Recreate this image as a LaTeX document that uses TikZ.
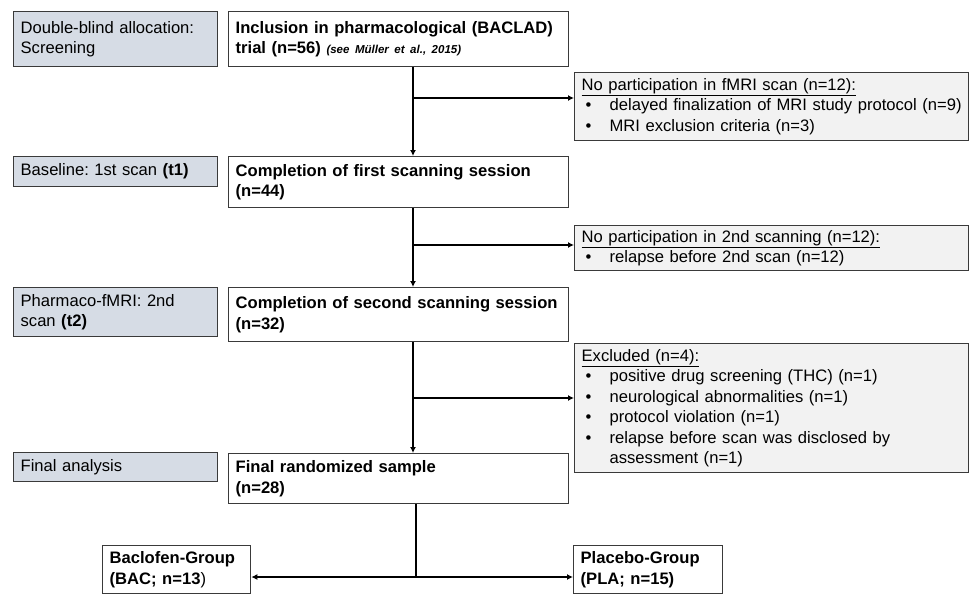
\documentclass[tikz,border=0pt]{standalone}
\usepackage{fontspec}
\setmainfont{Liberation Sans}
\usetikzlibrary{arrows.meta}
\definecolor{lblfill}{HTML}{D6DCE5}
\definecolor{exfill}{HTML}{F2F2F2}
\definecolor{edge}{HTML}{3A3A3A}
\newcommand{\bitem}[1]{\\\hspace*{4pt}\makebox[24pt][l]{\textbullet}#1}
\frenchspacing

\begin{document}
\begin{tikzpicture}[x=1pt, y=-1pt, every node/.style={font=\fontsize{16.6}{20.5}\selectfont},
  flowbox/.style={draw=edge, line width=1.3pt, anchor=north west, inner xsep=7pt, inner ysep=3pt, align=left},
  stagebox/.style={flowbox, fill=lblfill, text width=190pt},
  mainbox/.style={flowbox, fill=white, text width=326pt, font=\fontsize{16.6}{20.5}\selectfont\bfseries},
  exclbox/.style={flowbox, fill=exfill, text width=380pt},
  grpbox/.style={flowbox, fill=white, font=\fontsize{16.6}{20.5}\selectfont\bfseries},
  arr/.style={-{Latex[length=6pt,width=6pt]}, line width=1.3pt}]
  \useasboundingbox (0,0) rectangle (972,594);

  \node[stagebox, minimum height=55pt] (l1) at (13,11) {Double-blind allocation:\\Screening\vphantom{g}\\[-5pt]};
  \node[stagebox, minimum height=30pt] (l2) at (13,156) {Baseline: 1st scan \textbf{(t1)}};
  \node[stagebox, minimum height=49pt] (l3) at (13,287) {Pharmaco-fMRI: 2nd\\scan \textbf{(t2)}};
  \node[stagebox, minimum height=29pt] (l4) at (13,452) {Final analysis};

  \node[mainbox, minimum height=55pt] (m1) at (228,11) {Inclusion in pharmacological (BACLAD)\\trial (n=56) {\fontsize{11.5}{13}\selectfont\bfseries\itshape (see Müller et al., 2015)}\\[-5pt]};
  \node[mainbox, minimum height=51pt] (m2) at (228,156) {Completion of first scanning session\\(n=44)};
  \node[mainbox, minimum height=54pt] (m3) at (228,287) {\mbox{Completion of second scanning session}\\(n=32)};
  \node[mainbox, minimum height=50pt] (m4) at (228,453) {Final randomized sample\\(n=28)};

  \node[exclbox, minimum height=68pt] (r1) at (574,72) {\underline{No participation in fMRI scan (n=12):}%
    \bitem{\mbox{delayed finalization of MRI study protocol (n=9)}}%
    \bitem{MRI exclusion criteria (n=3)}};
  \node[exclbox, minimum height=45pt] (r2) at (574,225) {\underline{No participation in 2nd scanning (n=12):}%
    \bitem{relapse before 2nd scan (n=12)}};
  \node[exclbox, minimum height=129pt] (r3) at (574,343) {\underline{Excluded (n=4):}%
    \bitem{positive drug screening (THC) (n=1)}%
    \bitem{neurological abnormalities (n=1)}%
    \bitem{protocol violation (n=1)}%
    \bitem{relapse before scan was disclosed by}\\\hspace*{28pt}assessment (n=1)};

  \node[grpbox, text width=134pt, minimum height=48pt] (bac) at (102,545) {Baclofen-Group\\(BAC; n=13\textmd{)}};
  \node[grpbox, text width=135pt, minimum height=48pt] (pla) at (573,545) {Placebo-Group\\(PLA; n=15)};

  \coordinate (sp) at (413,0);
  \coordinate (sq) at (416,0);

  \draw[arr] (m1.south -| sp) -- (m2.north -| sp);
  \draw[arr] (sp |- 0,98) -- (r1.west |- 0,98);
  \draw[arr] (m2.south -| sp) -- (m3.north -| sp);
  \draw[arr] (sp |- 0,245) -- (r2.west |- 0,245);
  \draw[arr] (m3.south -| sp) -- (m4.north -| sp);
  \draw[arr] (sp |- 0,398) -- (r3.west |- 0,398);
  \draw[line width=1.3pt] (m4.south -| sq) -- (sq |- 0,577);
  \draw[arr] (sq |- 0,577) -- (bac.east |- 0,577);
  \draw[arr] (sq |- 0,577) -- (pla.west |- 0,577);
\end{tikzpicture}
\end{document}
